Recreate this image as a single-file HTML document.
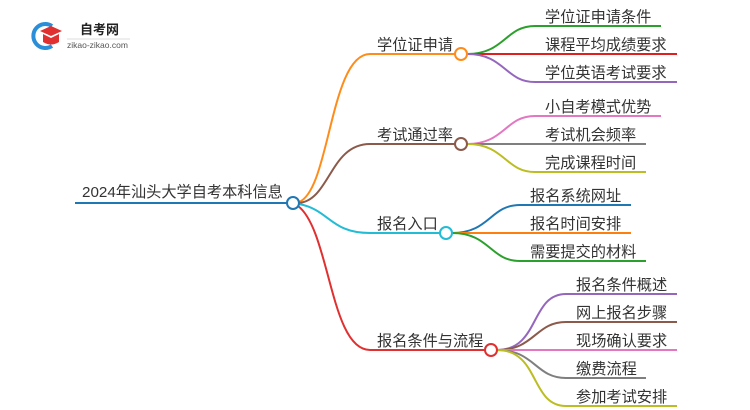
<!DOCTYPE html>
<html><head><meta charset="utf-8"><style>
html,body{margin:0;padding:0;background:#fff;width:750px;height:410px;overflow:hidden}
text{font-family:"Liberation Sans","Noto Sans CJK SC",sans-serif;fill:#333}
</style></head><body>
<svg width="750" height="410" viewBox="0 0 750 410" xmlns="http://www.w3.org/2000/svg">
<g fill="none" stroke-width="2">
<path d="M75 203 H287" stroke="#1f77b4"/>
<path d="M299 202 C330 190, 330 54, 370 54 H455" stroke="#ff8c1a"/>
<path d="M299 203 C330 200, 330 144, 370 144 H455" stroke="#8b5a4a"/>
<path d="M299 204 C330 210, 330 233, 370 233 H440" stroke="#22bcd4"/>
<path d="M298 206 C330 230, 330 350, 370 350 H485" stroke="#e03030"/>
<path d="M467 54 C505 54, 505 26, 535 26 H661" stroke="#2ca02c"/>
<path d="M467 54 H677" stroke="#e0201f"/>
<path d="M467 54 C505 54, 505 82, 535 82 H677" stroke="#9467bd"/>
<path d="M467 144 C505 144, 505 116, 535 116 H661" stroke="#e377c2"/>
<path d="M467 144 H646" stroke="#7f7f7f"/>
<path d="M467 144 C505 144, 505 172, 535 172 H646" stroke="#bcbd22"/>
<path d="M452 233 C490 233, 490 205, 520 205 H631" stroke="#1f77b4"/>
<path d="M452 233 H631" stroke="#ff7f0e"/>
<path d="M452 233 C490 233, 490 261, 520 261 H646" stroke="#2ca02c"/>
<path d="M497 350 C540 350, 530 294, 566 294 H677" stroke="#9467bd"/>
<path d="M497 350 C535 350, 535 322, 566 322 H677" stroke="#8b5a4a"/>
<path d="M497 350 H677" stroke="#e377c2"/>
<path d="M497 350 C535 350, 535 378, 566 378 H646" stroke="#7f7f7f"/>
<path d="M497 350 C540 350, 530 406, 566 406 H677" stroke="#bcbd22"/>
<circle cx="293" cy="203" r="6" stroke="#1f77b4" fill="#fff"/>
<circle cx="461" cy="54" r="6" stroke="#ff8c1a" fill="#fff"/>
<circle cx="461" cy="144" r="6" stroke="#8b5a4a" fill="#fff"/>
<circle cx="446" cy="233" r="6" stroke="#22bcd4" fill="#fff"/>
<circle cx="491" cy="350" r="6" stroke="#e03030" fill="#fff"/>
</g>
<g font-size="15.2">
<text x="82" y="197">2024年汕头大学自考本科信息</text>
<text x="377" y="50">学位证申请</text>
<text x="377" y="140">考试通过率</text>
<text x="377" y="229">报名入口</text>
<text x="377" y="346">报名条件与流程</text>
<text x="545" y="22">学位证申请条件</text>
<text x="545" y="50">课程平均成绩要求</text>
<text x="545" y="78">学位英语考试要求</text>
<text x="545" y="112">小自考模式优势</text>
<text x="545" y="140">考试机会频率</text>
<text x="545" y="168">完成课程时间</text>
<text x="530" y="201">报名系统网址</text>
<text x="530" y="229">报名时间安排</text>
<text x="530" y="257">需要提交的材料</text>
<text x="576" y="290">报名条件概述</text>
<text x="576" y="318">网上报名步骤</text>
<text x="576" y="346">现场确认要求</text>
<text x="576" y="374">缴费流程</text>
<text x="576" y="402">参加考试安排</text>
</g>
<path d="M52 26 A12 12 0 1 0 52 46" fill="none" stroke="#2a8fd8" stroke-width="4"/>
<path d="M40 31 L51 26 L62 31 L51 36 Z" fill="#e03030"/>
<path d="M43 34 V42 Q51 47 59 42 V34 L51 38 Z" fill="#e03030"/>
<text x="80" y="34" font-size="13" font-weight="bold" style="fill:#222">自考网</text>
<line x1="67" y1="39" x2="130" y2="39" stroke="#ddd" stroke-width="1"/>
<text x="67" y="48" font-size="8.5" style="fill:#555">zikao-zikao.com</text>
</svg>
</body></html>
